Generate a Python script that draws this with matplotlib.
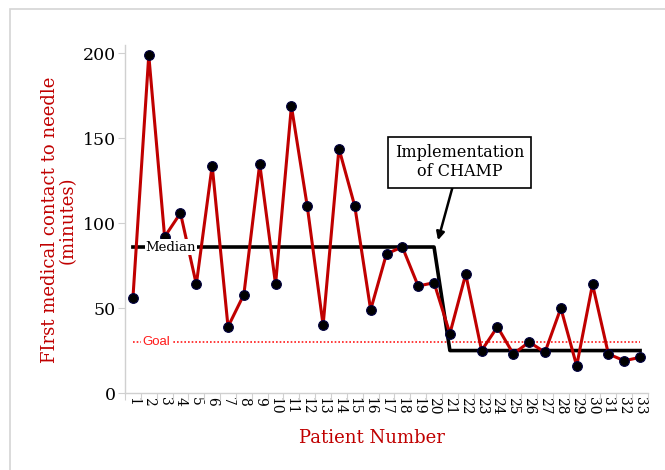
import numpy as np
import matplotlib.pyplot as plt
from matplotlib.patches import Rectangle

# patient data
patients = list(range(1, 34))
minutes = [56, 199, 92, 106, 64, 134, 39, 58, 135, 64, 169, 110, 40, 144, 110, 49,
           82, 86, 63, 65, 35, 70, 25, 39, 23, 30, 24, 50, 16, 64, 23, 19, 21]
median = [86] * 20 + [25] * 13
goal = [30] * 33
yticks = [0, 50, 100, 150, 200]

SERIF = ['DejaVu Serif']
RED = '#c00000'

fig = plt.figure(figsize=(6.65, 4.70), dpi=100)

# light grey frame (top + left edges visible)
fig.patches.append(Rectangle((10 / 665, -0.1), 2, (470 - 9) / 470 + 0.1,
                             transform=fig.transFigure, fill=False,
                             edgecolor='#d4d4d4', linewidth=1.2))

ax = fig.add_axes([125 / 665, 1 - 393 / 470, (648 - 125) / 665, (393 - 45) / 470])

ax.plot(patients, goal, color='#ff1a1a', linestyle=(0, (1, 1.2)), linewidth=1.2, zorder=2)
ax.plot(patients, median, color='black', linewidth=2.6, zorder=3)
ax.plot(patients, minutes, color=RED, linewidth=2.2, marker='o', markersize=7,
        markerfacecolor='black', markeredgecolor='#000040', markeredgewidth=0.8, zorder=4)

ax.text(1.8, 86, 'Median', family=SERIF, fontsize=9.5, va='center', ha='left',
        bbox=dict(facecolor='white', edgecolor='none', pad=0.8), zorder=5)
ax.text(1.6, 30, 'Goal', family='Liberation Sans', fontsize=9.5, color='#ff1a1a',
        va='center', ha='left', bbox=dict(facecolor='white', edgecolor='none', pad=1.0),
        zorder=2.5)

ax.annotate('Implementation\nof CHAMP', xy=(20.25, 90), xytext=(21.6, 136),
            ha='center', va='center', family=SERIF, fontsize=11.5, linespacing=1.2,
            bbox=dict(boxstyle='square,pad=0.45', facecolor='white', edgecolor='black', linewidth=1.2),
            arrowprops=dict(arrowstyle='-|>', color='black', lw=1.8, mutation_scale=12,
                            shrinkA=0, shrinkB=0),
            zorder=6)

ax.set_xlim(0.5, 33.5)
ax.set_ylim(0, 205)
ax.set_yticks(yticks)
ax.set_yticklabels([str(v) for v in yticks], family=SERIF, fontsize=12.5)
ax.set_xticks(patients)
ax.set_xticklabels([str(p) for p in patients], rotation=-90, family=SERIF, fontsize=10)
ax.set_xticks(np.arange(0.5, 34, 1), minor=True)
ax.tick_params(axis='x', which='major', length=0, pad=3)
ax.tick_params(axis='x', which='minor', length=5, color='#d0d0d0', width=0.8)
ax.tick_params(axis='y', length=5, color='#d0d0d0', width=0.8, pad=1.5)

for s in ['top', 'right']:
    ax.spines[s].set_visible(False)
for s in ['left', 'bottom']:
    ax.spines[s].set_color('#d0d0d0')
    ax.spines[s].set_linewidth(1.0)

fig.text(59 / 665, 1 - 220 / 470, 'FIrst medical contact to needle\n(minutes)',
         rotation=90, ha='center', va='center', color=RED, family=SERIF, fontsize=13,
         linespacing=1.0)
fig.text(372 / 665, 1 - 438 / 470, 'Patient Number', ha='center', va='center',
         color=RED, family=SERIF, fontsize=13)

fig.savefig('out.png', dpi=100, facecolor='white')
